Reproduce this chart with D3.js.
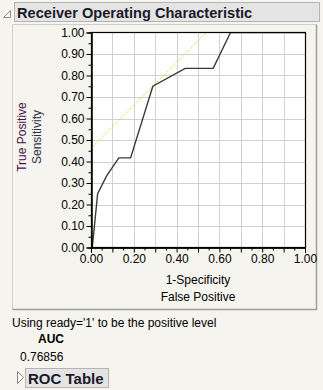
<!DOCTYPE html>
<html><head><meta charset="utf-8">
<script src="https://cdn.jsdelivr.net/npm/d3@7"></script>
<style>
body{margin:0;padding:0;background:#F5F4EE;}
svg{display:block;font-family:"Liberation Sans",Arial,sans-serif;}
</style></head>
<body>
<script>
// ROC curve points (1-Specificity, Sensitivity)
const rocFPR = [0.006, 0.031, 0.073, 0.130, 0.185, 0.289, 0.440, 0.571, 0.652, 1.0];
const rocTPR = [0.000, 0.250, 0.333, 0.4167, 0.4167, 0.750, 0.833, 0.833, 1.000, 1.0];
// tangent (yellow dotted) line endpoints
const tanX = [0.0, 0.539];
const tanY = [0.461, 1.0];
const yTicks = [0,0.1,0.2,0.3,0.4,0.5,0.6,0.7,0.8,0.9,1.0];
const xTickLabels = [0,0.2,0.4,0.6,0.8,1.0];
const aucValue = "0.76856";

const W=323,H=390;
const svg=d3.select("body").append("svg").attr("width",W).attr("height",H);
svg.append("rect").attr("width",W).attr("height",H).attr("fill","#F5F4EE");

// header
svg.append("rect").attr("x",14.5).attr("y",2.5).attr("width",305).attr("height",19)
  .attr("fill","#E4E4E4").attr("stroke","#B4B4B4");
svg.append("path").attr("d","M3.5,17.5 L10.5,10.5 L10.5,17.5 Z").attr("fill","#fff").attr("stroke","#888");
svg.append("text").attr("x",17).attr("y",17.5).attr("font-size","14.6px").attr("font-weight","bold")
  .attr("fill","#1a1a2a").text("Receiver Operating Characteristic");

// outline box
svg.append("path").attr("d","M12.5,310 L12.5,24.5 L316,24.5").attr("fill","none").attr("stroke","#D0D0C8");
svg.append("path").attr("d","M12.5,309.5 L316.5,309.5 L316.5,24.5").attr("fill","none").attr("stroke","#A0A098").attr("stroke-width",1.5);

const L=91,R=305,T=32.5,B=247.5;
const x=d3.scaleLinear().domain([0,1]).range([L,R]);
const y=d3.scaleLinear().domain([0,1]).range([B,T]);

svg.append("rect").attr("x",L).attr("y",T).attr("width",R-L).attr("height",B-T).attr("fill","#fff");
const grid=svg.append("g").attr("stroke","#D0D0D0").attr("stroke-width",1);
yTicks.slice(1,-1).forEach(v=>{
  grid.append("line").attr("x1",L).attr("x2",R).attr("y1",Math.round(y(v))+0.5).attr("y2",Math.round(y(v))+0.5);
  grid.append("line").attr("y1",T).attr("y2",B).attr("x1",Math.round(x(v))+0.5).attr("x2",Math.round(x(v))+0.5);
});

svg.append("clipPath").attr("id","c").append("rect").attr("x",L).attr("y",T).attr("width",R-L).attr("height",B-T);
const line=d3.line().x(d=>x(d[0])).y(d=>y(d[1]));
svg.append("path").attr("clip-path","url(#c)").attr("d",line(tanX.map((v,i)=>[v,tanY[i]])))
  .attr("fill","none").attr("stroke","#DCD41C").attr("stroke-width",1).attr("stroke-dasharray","1,1");
svg.append("path").attr("clip-path","url(#c)").attr("d",line(rocFPR.map((v,i)=>[v,rocTPR[i]])))
  .attr("fill","none").attr("stroke","#3a3a3a").attr("stroke-width",1.4);

svg.append("rect").attr("x",L+0.5).attr("y",T).attr("width",R-L).attr("height",B-T)
  .attr("fill","none").attr("stroke","#000").attr("stroke-width",1.2);

// axes
const yAxis=d3.axisLeft(y).tickValues(yTicks).tickFormat(d3.format(".2f")).tickSize(5).tickPadding(2);
svg.append("g").attr("transform",`translate(${L+0.5},0)`).call(yAxis);
const yMinor=d3.axisLeft(y).tickValues(d3.range(0.05,1,0.1)).tickFormat("").tickSize(3);
svg.append("g").attr("transform",`translate(${L+0.5},0)`).call(yMinor);
const xAxis=d3.axisBottom(x).tickValues(xTickLabels).tickFormat(d3.format(".2f")).tickSize(5).tickPadding(2);
svg.append("g").attr("transform",`translate(0,${B})`).call(xAxis);
const xMid=d3.axisBottom(x).tickValues(d3.range(0.1,1,0.2)).tickFormat("").tickSize(5);
svg.append("g").attr("transform",`translate(0,${B})`).call(xMid);
const xMinor=d3.axisBottom(x).tickValues(d3.range(0.05,1,0.1)).tickFormat("").tickSize(3);
svg.append("g").attr("transform",`translate(0,${B})`).call(xMinor);
svg.selectAll(".domain").attr("stroke","#000");
svg.selectAll(".tick line").attr("stroke","#000");
svg.selectAll(".tick text").attr("font-size","12px").attr("fill","#000").attr("font-family","Liberation Sans, Arial, sans-serif");

// axis titles
svg.append("text").attr("x",198).attr("y",284).attr("text-anchor","middle").attr("font-size","12px").text("1-Specificity");
svg.append("text").attr("x",198).attr("y",301).attr("text-anchor","middle").attr("font-size","12px").text("False Positive");
svg.append("text").attr("transform","translate(26,137) rotate(-90)").attr("text-anchor","middle").attr("font-size","12px")
  .attr("fill","#4a1048").text("True Positive");
svg.append("text").attr("transform","translate(41,137) rotate(-90)").attr("text-anchor","middle").attr("font-size","12px")
  .attr("fill","#303048").text("Sensitivity");

// notes
svg.append("text").attr("x",12).attr("y",327).attr("font-size","12px").attr("fill","#000").text("Using ready='1' to be the positive level");
svg.append("text").attr("x",38).attr("y",343).attr("font-size","12px").attr("font-weight","bold").attr("fill","#000").text("AUC");
svg.append("text").attr("x",20).attr("y",361).attr("font-size","12px").attr("fill","#000").text(aucValue);

// ROC Table button
svg.append("path").attr("d","M17.5,371.5 L23.5,377.5 L17.5,383.5 Z").attr("fill","#fff").attr("stroke","#888");
svg.append("rect").attr("x",25.5).attr("y",368.5).attr("width",83).attr("height",19).attr("fill","#E4E4E4").attr("stroke","#B4B4B4");
svg.append("text").attr("x",28).attr("y",384).attr("font-size","15px").attr("font-weight","bold").attr("fill","#1a1a2a").text("ROC Table");
</script>
</body></html>
